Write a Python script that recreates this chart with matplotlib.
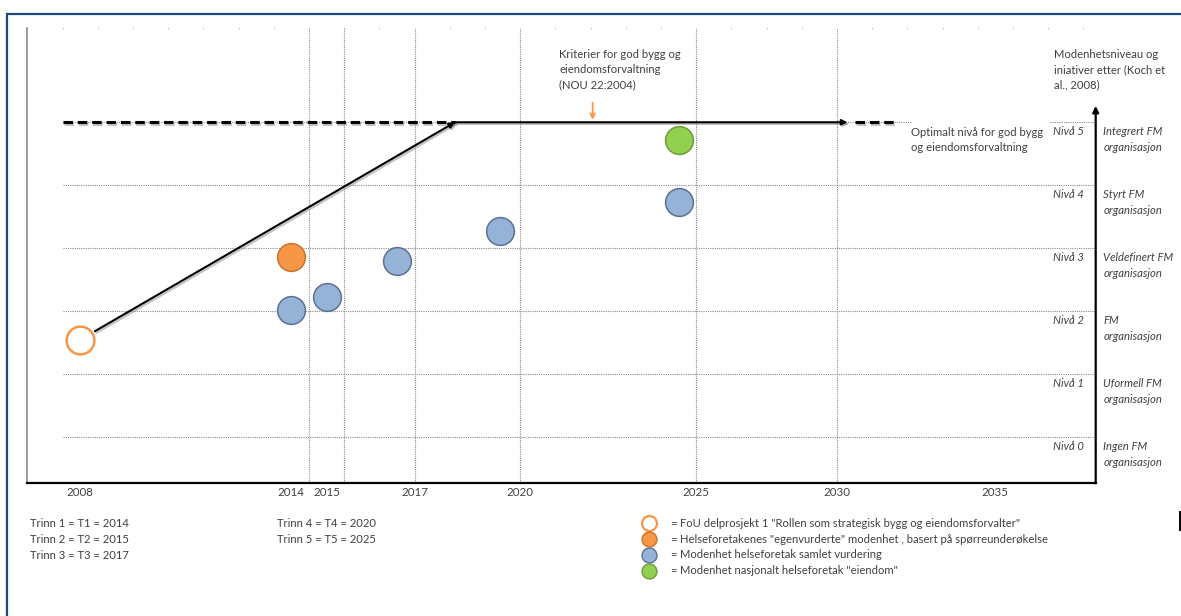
import numpy as np
import matplotlib
matplotlib.use("Agg")
import matplotlib.pyplot as plt
import matplotlib.patheffects as pe

plt.rcParams['font.family'] = ['Lato', 'DejaVu Sans']

W, H = 1181, 616
TXT = '#404040'
FS = 8.1

# data
open_year, open_level = [2008], [1.54]
own_year, own_level = [2014], [2.86]
blue_years = [2014, 2015, 2017, 2019.93, 2025]
blue_levels = [2.01, 2.23, 2.79, 3.27, 3.74]
green_year, green_level = [2025], [4.72]

path_years = [2008.42, 2018.65, 2029.8]
path_levels = [1.68, 5.0, 5.0]
dash_segments = [(2007.5, 2018.65), (2030.0, 2031.2)]
crit_year = 2022.56

levels = [0, 1, 2, 3, 4, 5]
level_names = ["Ingen FM", "Uformell FM", "FM", "Veldefinert FM", "Styrt FM", "Integrert FM"]
vline_years = [2014.5, 2015.5, 2017.5, 2020.5, 2025.5, 2029.5]
tick_pos = [2008, 2014, 2015, 2017.5, 2020.5, 2025.5, 2029.5, 2034]
tick_labels = ["2008", "2014", "2015", "2017", "2020", "2025", "2030", "2035"]

trinn_left = ["Trinn 1 = T1 = 2014", "Trinn 2 = T2 = 2015", "Trinn 3 = T3 = 2017"]
trinn_right = ["Trinn 4 = T4 = 2020", "Trinn 5 = T5 = 2025"]
legend_texts = ['FoU delprosjekt 1 "Rollen som strategisk bygg og eiendomsforvalter"',
                'Helseforetakenes "egenvurderte" modenhet , basert på spørreunderøkelse',
                'Modenhet helseforetak samlet vurdering',
                'Modenhet nasjonalt helseforetak "eiendom"']

ORANGE = '#F79646'
BLUE = '#95B3D7'
GREEN = '#92D050'

fig = plt.figure(figsize=(W / 100, H / 100), dpi=100)

# overlay in pixel coords for frame and notes
lay = fig.add_axes([0, 0, 1, 1])
lay.set_xlim(0, W)
lay.set_ylim(H, 0)
lay.axis('off')

ax = fig.add_axes([27.3 / W, 1 - 483.3 / H, (1095.7 - 27.3) / W, (483.3 - 28) / H])
ax.set_xlim(2006.5, 2036.85)
ax.set_ylim(-0.736, 6.498)
ax.patch.set_alpha(0)
for s in ['top', 'right']:
    ax.spines[s].set_visible(False)
ax.spines['left'].set_color('#7f7f7f')
ax.spines['left'].set_linewidth(1.1)
ax.spines['bottom'].set_color('black')
ax.spines['bottom'].set_linewidth(1.6)
ax.set_yticks([])
ax.set_xticks(tick_pos, tick_labels)
ax.tick_params(axis='x', which='major', length=0, pad=3.0, labelsize=8.3, labelcolor=TXT)
ax.set_xticks(np.arange(2007.5, 2037, 1.0), minor=True)
ax.tick_params(axis='x', which='minor', bottom=False, top=True, length=2,
               direction='inout', color='#c8c8c8', width=0.8)

# grid
grid_kw = dict(color='#8c8c8c', lw=0.8, linestyle=(0, (1, 1)), zorder=1)
for L in levels[:-1]:
    ax.hlines(L, 2007.5, 2036.85, **grid_kw)
ax.hlines(5, 2007.5, 2031.6, **grid_kw)
ax.hlines(5, 2035.55, 2036.85, **grid_kw)
ax.vlines(vline_years, -0.736, 6.498, **grid_kw)

# right axis arrow
ax.annotate('', xy=(1, 5.26), xycoords=('axes fraction', 'data'),
            xytext=(1, 0), textcoords='axes fraction',
            arrowprops=dict(arrowstyle='-|>', color='black', lw=1.6,
                            mutation_scale=9, shrinkA=0, shrinkB=0))

shadow = [pe.SimpleLineShadow(offset=(1.2, -1.2), shadow_color='#888888', alpha=0.5), pe.Normal()]

# dashed optimum line
for x0, x1 in dash_segments:
    ax.plot([x0, x1], [5, 5], color='black', lw=2.2, linestyle=(0, (3.1, 1.6)),
            zorder=3, path_effects=shadow, solid_capstyle='butt')

# development path
for i in range(len(path_years) - 1):
    ax.annotate('', xy=(path_years[i + 1], path_levels[i + 1]),
                xytext=(path_years[i], path_levels[i]),
                arrowprops=dict(arrowstyle='-|>', color='black', lw=1.5,
                                mutation_scale=8, shrinkA=0, shrinkB=0,
                                path_effects=shadow),
                zorder=4)

# orange criteria arrow
ax.annotate('', xy=(crit_year, 5.04), xytext=(crit_year, 5.31),
            arrowprops=dict(arrowstyle='->', color=ORANGE, lw=1.3,
                            mutation_scale=8, shrinkA=0, shrinkB=0), zorder=4)

# points
ax.scatter(open_year, open_level, s=400, facecolor='white', edgecolor=ORANGE, lw=1.8, zorder=5)
ax.scatter(own_year, own_level, s=400, facecolor=ORANGE, edgecolor='#C8732E', lw=1.1, zorder=5)
ax.scatter(blue_years, blue_levels, s=400, facecolor=BLUE, edgecolor='#5B7191', lw=1.1, zorder=5)
ax.scatter(green_year, green_level, s=400, facecolor=GREEN, edgecolor='#6E9B3A', lw=1.1, zorder=5)

# level labels at the right axis
for L, name in zip(levels, level_names):
    ax.annotate(f"Nivå {L}", xy=(1, L), xycoords=('axes fraction', 'data'),
                xytext=(-11.7, -9.5), textcoords='offset pixels', ha='right', va='center',
                fontsize=FS, style='italic', color=TXT, annotation_clip=False)
    for k, line in enumerate([name, "organisasjon"]):
        ax.annotate(line, xy=(1, L), xycoords=('axes fraction', 'data'),
                    xytext=(7.5, -9.5 - 16 * k), textcoords='offset pixels', ha='left', va='center',
                    fontsize=FS, style='italic', color=TXT, annotation_clip=False)


def block(x, y, lines, dy=15.5):
    for k, line in enumerate(lines):
        lay.text(x, y + dy * k, line, ha='left', va='center', fontsize=FS, color=TXT)


block(559, 54, ["Kriterier for god bygg og", "eiendomsforvaltning", "(NOU 22:2004)"])
block(1054, 54, ["Modenhetsniveau og", "iniativer etter (Koch et", "al., 2008)"])
block(911, 132, ["Optimalt nivå for god bygg", "og eiendomsforvaltning"])
block(30, 523.3, trinn_left, dy=15.9)
block(277.3, 523.3, trinn_right, dy=15.9)

# legend
leg_faces = ['white', ORANGE, BLUE, GREEN]
leg_edges = [ORANGE, '#C8732E', '#5B7191', '#6E9B3A']
for k, (txt, fc, ec) in enumerate(zip(legend_texts, leg_faces, leg_edges)):
    y = 523.3 + 15.8 * k
    lay.scatter([649.3], [y], s=115, facecolor=fc, edgecolor=ec, lw=1.6 if k == 0 else 1.0, zorder=5)
    lay.text(670, y, "=", ha='left', va='center', fontsize=FS, color=TXT)
    lay.text(680, y, txt, ha='left', va='center', fontsize=FS, color=TXT)

# outer frame
lay.plot([7.3, 7.3, W], [H, 14, 14], color='#1F497D', lw=1.6, solid_joinstyle='miter')
lay.plot([1179.5, 1179.5], [512, 530], color='black', lw=1.4)

fig.savefig("out.png", dpi=100)
